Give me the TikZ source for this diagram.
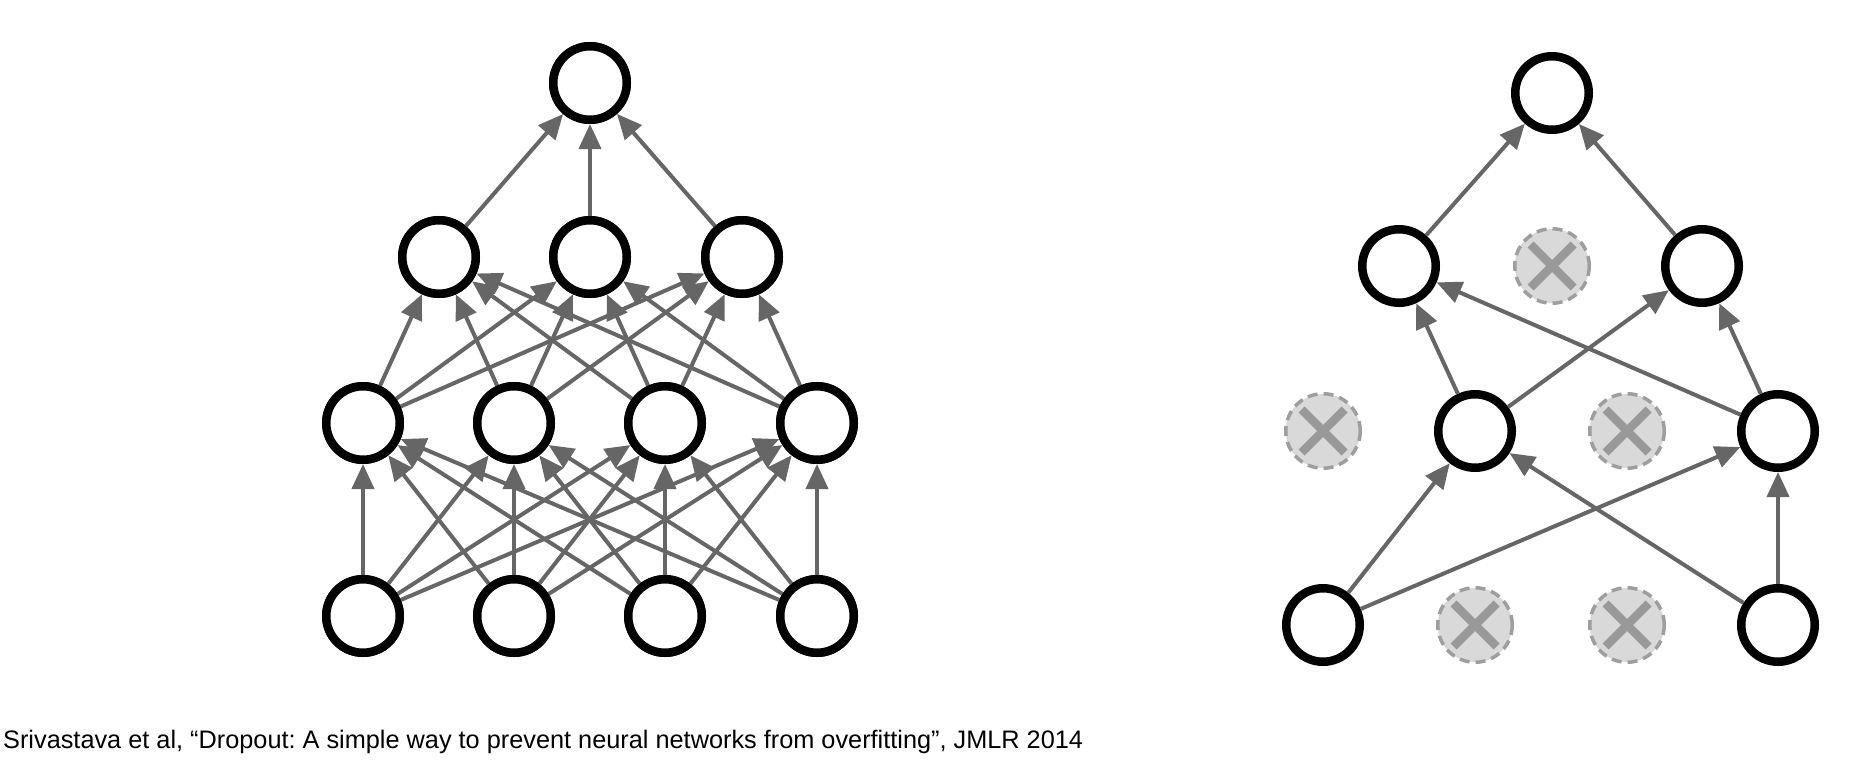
\documentclass[tikz,border=0pt]{standalone}
\usepackage{fontspec}
\setmainfont{Liberation Sans}
\frenchspacing
\usetikzlibrary{arrows.meta,shapes.geometric}
\definecolor{edgegray}{HTML}{666666}
\definecolor{dropfill}{HTML}{D9D9D9}
\definecolor{dropline}{HTML}{9E9E9E}
\definecolor{crossgray}{HTML}{999999}
\tikzset{
  neuron/.style={circle, draw=black, line width=8.5pt, fill=white, inner sep=0pt, minimum size=73.5pt},
  dropped/.style={circle, draw=dropline, line width=3.5pt, dash pattern=on 10pt off 6pt, fill=dropfill, inner sep=0pt, minimum size=74.5pt},
  link/.style={draw=edgegray, line width=4pt, -{Triangle[length=25pt,width=22pt]}},
  cross/.style={draw=crossgray, line width=8.5pt}
}
\begin{document}
\begin{tikzpicture}[x=1pt,y=-1pt]
\useasboundingbox (0,0) rectangle (1852,760);
% ---------- left network: edges ----------
\coordinate (o) at (590,83);
\coordinate (h1) at (439,257);
\coordinate (h2) at (590,257);
\coordinate (h3) at (742,257);
\coordinate (g1) at (363,423);
\coordinate (g2) at (514,423);
\coordinate (g3) at (665,423);
\coordinate (g4) at (817,423);
\coordinate (i1) at (363,616);
\coordinate (i2) at (514,616);
\coordinate (i3) at (665,616);
\coordinate (i4) at (817,616);
\foreach \n in {o,h1,h2,h3,g1,g2,g3,g4,i1,i2,i3,i4}{
  \node[neuron] (n\n) at (\n) {};
}
\foreach \s in {i1,i2,i3,i4}{
  \foreach \t in {g1,g2,g3,g4}{
    \draw[link] (n\s) -- (n\t);
  }
}
\foreach \s in {g1,g2,g3,g4}{
  \foreach \t in {h1,h2,h3}{
    \draw[link] (n\s) -- (n\t);
  }
}
\foreach \s in {h1,h2,h3}{
  \draw[link] (n\s) -- (no);
}
% nodes drawn again above the connectors
\foreach \n in {o,h1,h2,h3,g1,g2,g3,g4,i1,i2,i3,i4}{
  \node[neuron] at (\n) {};
}
% ---------- right network ----------
\node[neuron] (ro) at (1552,93) {};
\node[neuron] (rh1) at (1399,266) {};
\node[dropped] (rh2) at (1552,266) {};
\node[neuron] (rh3) at (1702,266) {};
\node[dropped] (rg1) at (1323,431) {};
\node[neuron] (rg2) at (1475,431) {};
\node[dropped] (rg3) at (1627,431) {};
\node[neuron] (rg4) at (1778,431) {};
\node[neuron] (ri1) at (1323,625) {};
\node[dropped] (ri2) at (1475,625) {};
\node[dropped] (ri3) at (1627,625) {};
\node[neuron] (ri4) at (1778,625) {};
\draw[link] (ri1) -- (rg2);
\draw[link] (ri1) -- (rg4);
\draw[link] (ri4) -- (rg2);
\draw[link] (ri4) -- (rg4);
\draw[link] (rg2) -- (rh1);
\draw[link] (rg2) -- (rh3);
\draw[link] (rg4) -- (rh1);
\draw[link] (rg4) -- (rh3);
\draw[link] (rh1) -- (ro);
\draw[link] (rh3) -- (ro);
\foreach \d in {rh2,rg1,rg3,ri2,ri3}{
  \draw[cross] ([shift={(-21.5,-21.5)}]\d.center) -- ([shift={(21.5,21.5)}]\d.center);
  \draw[cross] ([shift={(21.5,-21.5)}]\d.center) -- ([shift={(-21.5,21.5)}]\d.center);
}
% ---------- caption ----------
\node[anchor=base west, inner sep=0pt, font=\fontsize{25.3}{29}\selectfont] (cap) at (3,748.5) {Srivastava et al, “Dropout: A simple way to prevent neural networks from overfitting”, JMLR 2014};
\end{tikzpicture}
\end{document}
